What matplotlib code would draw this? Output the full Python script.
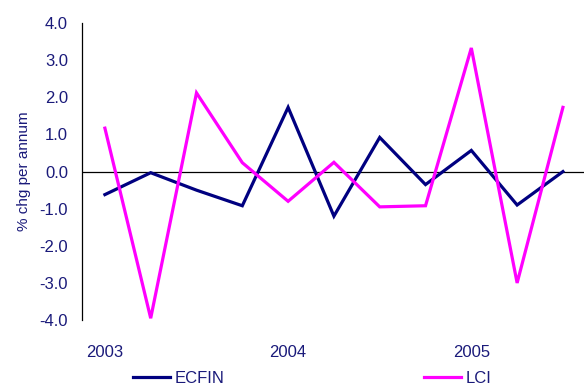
import numpy as np
import matplotlib
matplotlib.use("Agg")
import matplotlib.pyplot as plt

# ── Data: quarterly % change per annum, 2003Q1 – 2005Q3 ───────────────────────
QUARTERS = ["2003Q1", "2003Q2", "2003Q3", "2003Q4",
            "2004Q1", "2004Q2", "2004Q3", "2004Q4",
            "2005Q1", "2005Q2", "2005Q3"]
ECFIN = [-0.62, -0.03, -0.50, -0.92, 1.73, -1.20, 0.92, -0.35, 0.57, -0.90, 0.0]
LCI   = [1.17, -3.95, 2.12, 0.24, -0.80, 0.25, -0.95, -0.92, 3.33, -3.00, 1.73]
YEAR_LABELS = ["2003", "2004", "2005"]

NAVY    = "#000080"
MAGENTA = "#FF00FF"
TEXT    = "#1a1a7a"

plt.rcParams["font.family"] = ["Liberation Sans", "DejaVu Sans"]

fig = plt.figure(figsize=(5.84, 3.88), dpi=100)
ax = fig.add_axes([0.1404, 0.175, 0.8596, 0.7655])

x = np.arange(len(QUARTERS))
l1, = ax.plot(x, ECFIN, color=NAVY, lw=2.3, solid_joinstyle="miter")
l2, = ax.plot(x, LCI, color=MAGENTA, lw=2.3, solid_joinstyle="miter")
ax.axhline(0, color="black", lw=0.9, zorder=0)

ax.set_xlim(-0.5, 10.46)
ax.set_ylim(-4, 4)
ax.set_yticks(np.arange(-4, 4.1, 1.0))
ax.set_yticklabels([f"{v:.1f}" for v in np.arange(-4, 4.1, 1.0)],
                   color=TEXT, fontsize=12)
ax.set_xticks([0, 4, 8])
ax.set_xticklabels(YEAR_LABELS, color=TEXT, fontsize=12)
ax.tick_params(axis="y", length=0, pad=10)
ax.tick_params(axis="x", length=0, pad=18)

for side in ["top", "right", "bottom"]:
    ax.spines[side].set_visible(False)
ax.spines["left"].set_linewidth(0.9)

ax.set_ylabel("% chg per annum", color=TEXT, fontsize=11, labelpad=6)

fig.legend([l1, l2], ["ECFIN", "LCI"], loc="center", ncol=2,
           bbox_to_anchor=(0.535, 0.024), frameon=False, fontsize=12,
           handlelength=2.2, handletextpad=0.3, columnspacing=12.0,
           labelcolor=TEXT, borderpad=0.1)

fig.savefig("out.png", dpi=100)
